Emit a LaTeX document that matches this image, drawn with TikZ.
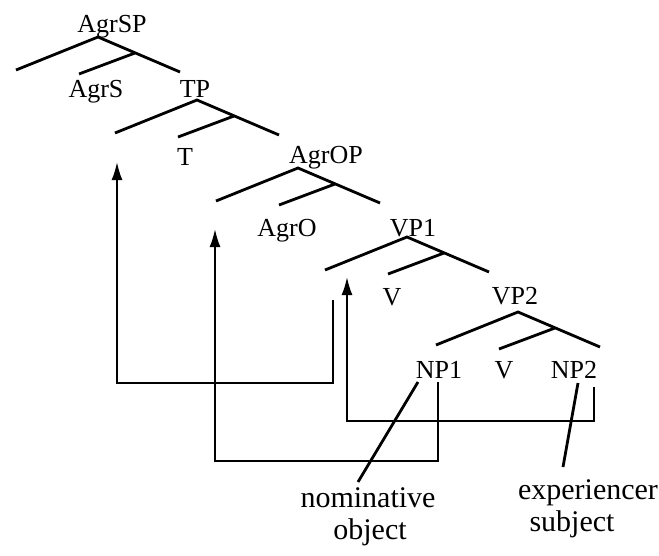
\documentclass[tikz,border=0pt]{standalone}
\usepackage{fontspec}
\setmainfont{Liberation Serif}
\usetikzlibrary{calc,arrows.meta,positioning}
\tikzset{
  cat/.style={font=\fontsize{26}{28}\selectfont, inner sep=0pt, anchor=base},
  gloss/.style={font=\fontsize{30}{30}\selectfont, inner sep=0pt, anchor=base},
  branch/.style={line width=2.8pt},
  trace/.style={line width=1.9pt},
  move/.style={trace, -{Latex[length=18pt,width=11pt]}}
}

\begin{document}
\begin{tikzpicture}[x=1pt,y=-1pt]
\useasboundingbox (0,0) rectangle (659,555);
\foreach \x/\y in {98/37,197/100,298/168,407/237,518/312}{
\draw[branch] (\x,\y) ++(-82,33) -- (\x,\y) -- ++(82,35);
\draw[branch] (\x,\y) ++(37,16) -- ++(-56,21);
}
\node[cat] (agrsp) at (112,32) {AgrSP};
\node[cat] (agrs) at (96,97) {AgrS};
\node[cat] (tp) at (195,97) {TP};
\node[cat] (t) at (185,165) {T};
\node[cat] (agrop) at (326,163) {AgrOP};
\node[cat] (agro) at (287,236) {AgrO};
\node[cat] (vp1) at (413,236) {VP1};
\node[cat] (v1) at (392,305) {V};
\node[cat] (vp2) at (515,304) {VP2};
\node[cat] (np1) at (439,378) {NP1};
\node[cat] (v2) at (504,378) {V};
\node[cat] (np2) at (574,378) {NP2};
\node[gloss] (nom) at (368,507) {nominative};
\node[gloss] (obj) at (370,539) {object};
\node[gloss] (exp) at (588,499) {experiencer};
\node[gloss] (subj) at (572,531) {subject};

\coordinate (sp1) at (117,162);
\coordinate (sp2) at (215,229);
\coordinate (sp3) at (347,277);
\coordinate (tr1) at (333,300);
\coordinate (tr2) at (438,382);
\coordinate (tr3) at (594,387);
\coordinate (np1s) at (418,382);
\coordinate (nomt) at (358,482);
\coordinate (np2s) at (578,383);
\coordinate (expt) at (563,467);

\draw[move] (tr1) -- ++(0,83) -| (sp1);
\draw[move] (tr2) -- ++(0,79) -| (sp2);
\draw[move] (tr3) -- ++(0,34) -| (sp3);
\draw[branch] (np1s) -- (nomt);
\draw[branch] (np2s) -- (expt);
\end{tikzpicture}
\end{document}
